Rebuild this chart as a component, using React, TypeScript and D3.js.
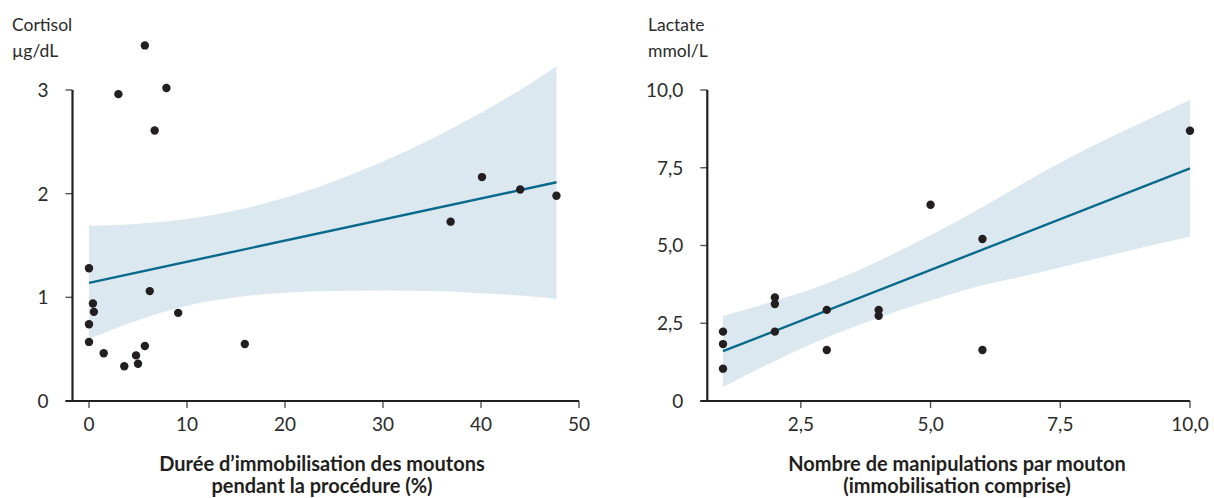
import * as d3 from "d3"

// left panel: cortisol vs immobilisation time (%)
const cortisolDuration = [0, 0.4, 0.5, 0, 0, 1.5, 3.6, 4.8, 5.0, 5.7, 6.2, 9.1, 15.9, 5.7, 3.0, 7.9, 6.7, 40.1, 44.0, 47.7, 36.9]
const cortisolValue = [1.28, 0.94, 0.86, 0.74, 0.57, 0.46, 0.335, 0.44, 0.36, 0.53, 1.06, 0.85, 0.55, 3.43, 2.96, 3.02, 2.61, 2.16, 2.04, 1.98, 1.73]
const cortisolFitX = [0, 47.7]
const cortisolFitY = [1.14, 2.11]
const cortisolBandX = [0, 5, 10, 15, 20, 25, 30, 35, 40, 45, 47.7]
const cortisolBandLow = [0.6, 0.78, 0.92, 1.0, 1.045, 1.06, 1.065, 1.06, 1.04, 1.01, 0.985]
const cortisolBandHigh = [1.69, 1.71, 1.755, 1.84, 1.96, 2.12, 2.31, 2.53, 2.78, 3.06, 3.23]
const cortisolXTicks = [0, 10, 20, 30, 40, 50]
const cortisolXLabels = ["0", "10", "20", "30", "40", "50"]
const cortisolYTicks = [0, 1, 2, 3]
const cortisolYLabels = ["0", "1", "2", "3"]

// right panel: lactate vs number of handlings
const handlings = [1, 1, 1, 2, 2, 2, 3, 3, 4, 4, 5, 6, 6, 10]
const lactateValue = [2.23, 1.83, 1.04, 3.33, 3.12, 2.23, 2.93, 1.64, 2.93, 2.74, 6.31, 5.21, 1.64, 8.69]
const lactateFitX = [1, 10]
const lactateFitY = [1.6, 7.48]
const lactateBandX = [1, 2, 3, 4, 5, 6, 7, 8, 9, 10]
const lactateBandLow = [0.45, 1.29, 2.04, 2.68, 3.23, 3.72, 4.09, 4.5, 4.9, 5.28]
const lactateBandHigh = [2.73, 3.22, 3.78, 4.5, 5.33, 6.24, 7.2, 8.1, 8.9, 9.68]
const lactateXTicks = [2.5, 5, 7.5, 10]
const lactateXLabels = ["2,5", "5,0", "7,5", "10,0"]
const lactateYTicks = [0, 2.5, 5, 7.5, 10]
const lactateYLabels = ["0", "2,5", "5,0", "7,5", "10,0"]

const FONT = "Lato, 'Noto Sans', sans-serif"
const BAND = "#dce8f0"
const LINE = "#086a8b"
const INK = "#231f20"
const TEXT = "#2b2b2b"

type PanelProps = {
  xs: number[]
  ys: number[]
  fitX: number[]
  fitY: number[]
  bandX: number[]
  bandLow: number[]
  bandHigh: number[]
  xDomain: [number, number]
  xRange: [number, number]
  yDomain: [number, number]
  axisLeft: number
  xTicks: number[]
  xLabels: string[]
  yTicks: number[]
  yLabels: string[]
  unit: string[]
  unitX: number
  title: string[]
  titleX: number
}

function Panel(p: PanelProps) {
  const top = 90
  const bottom = 401
  const tick = 7

  const x = d3.scaleLinear().domain(p.xDomain).range(p.xRange)
  const y = d3.scaleLinear().domain(p.yDomain).range([bottom, top])

  const band = d3.area<number>()
    .x((_, i) => x(p.bandX[i]))
    .y0((_, i) => y(p.bandLow[i]))
    .y1((_, i) => y(p.bandHigh[i]))
    .curve(d3.curveMonotoneX)

  const fit = d3.line<number>()
    .x((_, i) => x(p.fitX[i]))
    .y((_, i) => y(p.fitY[i]))

  const right = x(p.xDomain[1])

  return (
    <g>
      {p.unit.map((t, i) => (
        <text key={t} x={p.unitX} y={30.5 + i * 26} fontSize={17.5} fill={TEXT}>{t}</text>
      ))}

      <path d={band(p.bandX) ?? ""} fill={BAND} />
      <path d={fit(p.fitX) ?? ""} fill="none" stroke={LINE} strokeWidth={2.4} />

      {p.xs.map((v, i) => (
        <circle key={i} cx={x(v)} cy={y(p.ys[i])} r={4.2} fill={INK} />
      ))}

      {/* y axis */}
      {p.yTicks.map((t, i) => (
        <g key={t}>
          <line x1={p.axisLeft - tick} x2={p.axisLeft} y1={y(t)} y2={y(t)} stroke="#555" strokeWidth={1.4} />
          <text x={p.axisLeft - tick - 17} y={y(t)} dy="0.36em" textAnchor="end" fontSize={19} fill={TEXT}>
            {p.yLabels[i]}
          </text>
        </g>
      ))}
      <line x1={p.axisLeft} x2={p.axisLeft} y1={top} y2={bottom} stroke={INK} strokeWidth={2.2} />

      {/* x axis */}
      {p.xTicks.map((t, i) => (
        <g key={t}>
          <line x1={x(t)} x2={x(t)} y1={bottom} y2={bottom + tick} stroke="#555" strokeWidth={1.4} />
          <text x={x(t)} y={bottom + 30} textAnchor="middle" fontSize={19} fill={TEXT}>
            {p.xLabels[i]}
          </text>
        </g>
      ))}
      <line x1={p.axisLeft - tick} x2={right} y1={bottom} y2={bottom} stroke={INK} strokeWidth={2.2} />

      {p.title.map((t, i) => (
        <text key={t} x={p.titleX} y={471 + i * 22} textAnchor="middle" fontSize={20} fontWeight={700} fill={INK}>
          {t}
        </text>
      ))}
    </g>
  )
}

export default function App() {
  return (
    <svg
      width={1214}
      height={498}
      style={{ position: "absolute", left: 0, top: 0, background: "#fff" }}
      fontFamily={FONT}
    >
      <Panel
        xs={cortisolDuration}
        ys={cortisolValue}
        fitX={cortisolFitX}
        fitY={cortisolFitY}
        bandX={cortisolBandX}
        bandLow={cortisolBandLow}
        bandHigh={cortisolBandHigh}
        xDomain={[0, 50]}
        xRange={[89, 579]}
        yDomain={[0, 3]}
        axisLeft={72.5}
        xTicks={cortisolXTicks}
        xLabels={cortisolXLabels}
        yTicks={cortisolYTicks}
        yLabels={cortisolYLabels}
        unit={["Cortisol", "µg/dL"]}
        unitX={12}
        title={["Durée d’immobilisation des moutons", "pendant la procédure (%)"]}
        titleX={322}
      />
      <Panel
        xs={handlings}
        ys={lactateValue}
        fitX={lactateFitX}
        fitY={lactateFitY}
        bandX={lactateBandX}
        bandLow={lactateBandLow}
        bandHigh={lactateBandHigh}
        xDomain={[1, 10]}
        xRange={[723, 1190]}
        yDomain={[0, 10]}
        axisLeft={707.3}
        xTicks={lactateXTicks}
        xLabels={lactateXLabels}
        yTicks={lactateYTicks}
        yLabels={lactateYLabels}
        unit={["Lactate", "mmol/L"]}
        unitX={648}
        title={["Nombre de manipulations par mouton", "(immobilisation comprise)"]}
        titleX={957}
      />
    </svg>
  )
}
